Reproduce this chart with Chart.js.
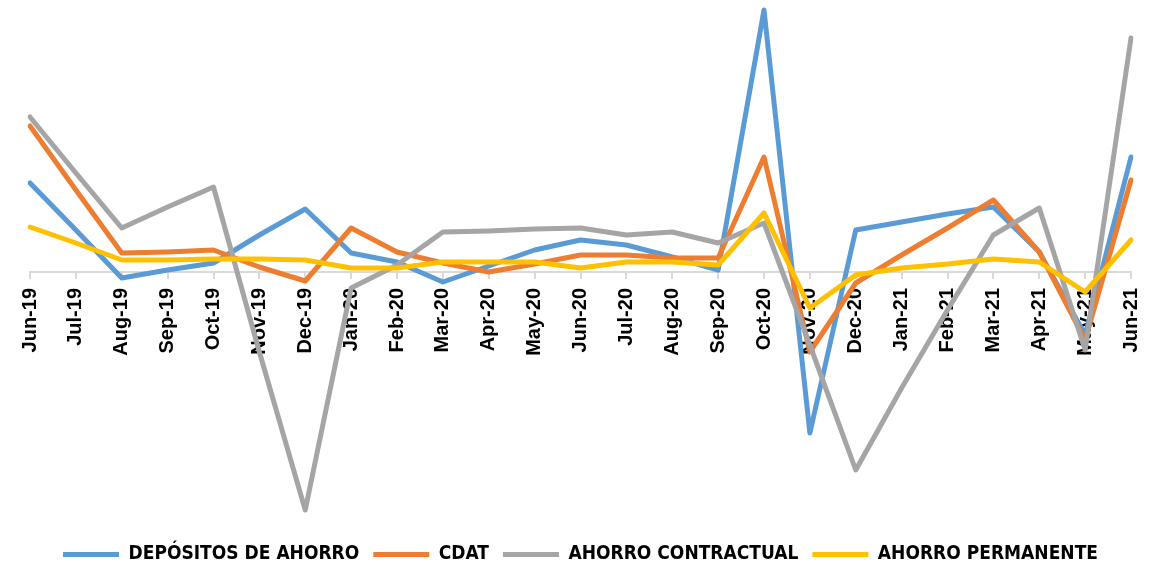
<!DOCTYPE html>
<html>
<head>
<meta charset="utf-8">
<script src="https://cdn.jsdelivr.net/npm/chart.js@4.4.1/dist/chart.umd.min.js"></script>
<style>
  html, body { margin: 0; padding: 0; background: #fff; }
  #wrap { width: 1158px; height: 569px; position: relative; }
</style>
</head>
<body>
<div id="wrap"><canvas id="lineChart"></canvas></div>
<script>
const months = ['Jun-19', 'Jul-19', 'Aug-19', 'Sep-19', 'Oct-19', 'Nov-19', 'Dec-19', 'Jan-20', 'Feb-20',
    'Mar-20', 'Apr-20', 'May-20', 'Jun-20', 'Jul-20', 'Aug-20', 'Sep-20', 'Oct-20', 'Nov-20', 'Dec-20',
    'Jan-21', 'Feb-21', 'Mar-21', 'Apr-21', 'May-21', 'Jun-21'];

const depositosAhorro = [8.9, 4.2, -0.6, 0.2, 0.9, 3.7, 6.3, 1.9, 1.0, -1.0, 0.6, 2.2, 3.2, 2.7, 1.5, 0.2,
    26.2, -16.1, 4.2, 5.0, 5.8, 6.5, 2.0, -6.3, 11.5];
const cdat = [14.6, 8.2, 1.9, 2.0, 2.2, 0.5, -0.9, 4.4, 2.0, 0.9, 0.0, 0.8, 1.7, 1.7, 1.4, 1.4,
    11.5, -8.0, -1.1, 1.7, 4.4, 7.2, 2.0, -6.8, 9.2];
const ahorroContractual = [15.5, 9.9, 4.4, 6.5, 8.5, -8.0, -23.8, -1.6, 0.7, 4.0, 4.1, 4.3, 4.4, 3.7, 4.0, 2.9,
    4.9, -7.3, -19.8, -11.6, -3.8, 3.7, 6.4, -7.8, 23.4];
const ahorroPermanente = [4.5, 2.9, 1.2, 1.2, 1.3, 1.3, 1.2, 0.4, 0.4, 1.0, 1.0, 1.0, 0.4, 1.0, 1.0, 0.7,
    5.9, -3.6, -0.3, 0.4, 0.8, 1.3, 1.0, -2.0, 3.2];

const seriesNames = ['DEPÓSITOS DE AHORRO', 'CDAT', 'AHORRO CONTRACTUAL', 'AHORRO PERMANENTE'];
const seriesColors = ['#5B9BD5', '#ED7D31', '#A5A5A5', '#FFC000'];

function makeSet(i, data) {
    return {
        label: seriesNames[i],
        data: data,
        borderColor: seriesColors[i],
        backgroundColor: seriesColors[i],
        borderWidth: 5,
        borderCapStyle: 'round',
        borderJoinStyle: 'round',
        pointRadius: 0,
        tension: 0,
        // excel draws the last series on top
        order: 3 - i
    };
}

const ctx = document.getElementById('lineChart').getContext('2d');
new Chart(ctx, {
    type: 'line',
    data: {
        labels: months,
        datasets: [
            makeSet(0, depositosAhorro),
            makeSet(1, cdat),
            makeSet(2, ahorroContractual),
            makeSet(3, ahorroPermanente)
        ]
    },
    options: {
        responsive: true,
        maintainAspectRatio: false,
        animation: false,
        layout: { padding: { top: 4, left: 30, right: 27, bottom: -5 } },
        scales: {
            y: {
                display: false,
                min: -25.9,
                max: 26.8
            },
            x: {
                position: { y: 0 },
                // axis sits on the zero line, so it should not eat layout space
                afterFit: (scale) => {
                    scale.height = 0;
                    scale.paddingLeft = 0;
                    scale.paddingRight = 0;
                },
                grid: {
                    drawOnChartArea: false,
                    drawTicks: true,
                    tickLength: 6,
                    color: '#d9d9d9',
                    lineWidth: 2
                },
                border: { display: true, color: '#d9d9d9', width: 2 },
                ticks: {
                    minRotation: 90,
                    maxRotation: 90,
                    autoSkip: false,
                    padding: 10,
                    color: '#000',
                    font: { family: 'Liberation Sans', size: 20, weight: 'bold' }
                }
            }
        },
        plugins: {
            tooltip: { enabled: false },
            legend: {
                position: 'bottom',
                labels: {
                    usePointStyle: true,
                    pointStyle: 'line',
                    pointStyleWidth: 56,
                    padding: 14,
                    color: '#000',
                    font: { family: 'DejaVu Sans Condensed', size: 19, weight: 'bold' },
                    sort: (a, b) => a.datasetIndex - b.datasetIndex
                }
            }
        }
    }
});
</script>
</body>
</html>
